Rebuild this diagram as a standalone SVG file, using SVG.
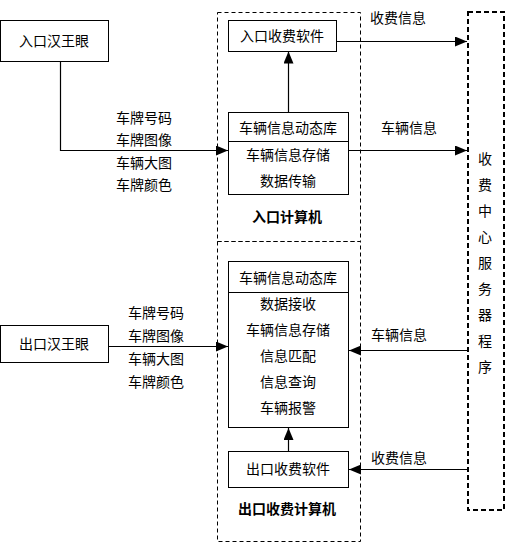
<svg xmlns="http://www.w3.org/2000/svg" width="508" height="544" viewBox="0 0 508 544">
<style>
text{font-family:"Noto Sans CJK SC","Liberation Sans",sans-serif;font-size:14px;fill:#000}
.c{text-anchor:middle}
.b{font-weight:bold}
.box{fill:#fff;stroke:#000;stroke-width:1}
.dash{fill:none;stroke:#000;stroke-width:1;stroke-dasharray:4 3}
.dash2{fill:none;stroke:#000;stroke-width:2;stroke-dasharray:5 3}
.ln{fill:none;stroke:#000;stroke-width:1.2}
</style>
<defs>
<marker id="ah" viewBox="0 0 12 10" refX="12" refY="5" markerWidth="12" markerHeight="10" markerUnits="userSpaceOnUse" orient="auto">
<path d="M0,0 L12,5 L0,10 Z" fill="#000"/>
</marker>
</defs>
<g id="entry-computer"><rect class="dash" x="217.5" y="12.5" width="143" height="229"/><text class="c b" x="287" y="222">入口计算机</text></g>
<g id="exit-computer"><rect class="dash" x="217.5" y="241.5" width="143" height="300"/><text class="c b" x="287" y="514">出口收费计算机</text></g>
<g id="center-server"><rect class="dash2" x="468" y="12" width="36" height="498"/>
<text class="c" x="485" y="164">收</text><text class="c" x="485" y="190">费</text><text class="c" x="485" y="216">中</text><text class="c" x="485" y="242">心</text><text class="c" x="485" y="268">服</text><text class="c" x="485" y="294">务</text><text class="c" x="485" y="320">器</text><text class="c" x="485" y="346">程</text><text class="c" x="485" y="372">序</text></g>
<g id="entry-eye"><rect class="box" x="0.5" y="20.5" width="108" height="41"/><text class="c" x="54" y="46">入口汉王眼</text></g>
<g id="entry-fee"><rect class="box" x="228.5" y="20.5" width="108" height="31"/><text class="c" x="282" y="41">入口收费软件</text></g>
<g id="entry-db"><rect class="box" x="228.5" y="112.5" width="120" height="82"/><line x1="228.5" y1="141.5" x2="348.5" y2="141.5" stroke="#000"/>
<text class="c" x="288" y="133">车辆信息动态库</text><text class="c" x="288" y="160">车辆信息存储</text><text class="c" x="288" y="186">数据传输</text></g>
<g id="exit-eye"><rect class="box" x="0.5" y="325.5" width="108" height="37"/><text class="c" x="54" y="349">出口汉王眼</text></g>
<g id="exit-db"><rect class="box" x="228.5" y="261.5" width="120" height="166"/><line x1="228.5" y1="292.5" x2="348.5" y2="292.5" stroke="#000"/>
<text class="c" x="288" y="283">车辆信息动态库</text><text class="c" x="288" y="309">数据接收</text><text class="c" x="288" y="335">车辆信息存储</text><text class="c" x="288" y="361">信息匹配</text><text class="c" x="288" y="387">信息查询</text><text class="c" x="288" y="413">车辆报警</text></g>
<g id="exit-fee"><rect class="box" x="228.5" y="451.5" width="120" height="36"/><text class="c" x="288" y="474">出口收费软件</text></g>
<g id="connectors">
<path class="ln" d="M60.5,62 V150.5 H228" marker-end="url(#ah)"/>
<text x="116" y="123">车牌号码</text><text x="116" y="145">车牌图像</text><text x="116" y="168">车辆大图</text><text x="116" y="190">车牌颜色</text>
<path class="ln" d="M288.5,112 V51.5" marker-end="url(#ah)"/>
<path class="ln" d="M337,41.5 H467" marker-end="url(#ah)"/>
<text x="370" y="23">收费信息</text>
<path class="ln" d="M349,150.5 H467" marker-end="url(#ah)"/>
<text x="381" y="133">车辆信息</text>
<path class="ln" d="M109,346.5 H228" marker-end="url(#ah)"/>
<text x="128" y="318">车牌号码</text><text x="128" y="341">车牌图像</text><text x="128" y="364">车辆大图</text><text x="128" y="387">车牌颜色</text>
<path class="ln" d="M467,350.5 H349" marker-end="url(#ah)"/>
<text x="371" y="340">车辆信息</text>
<path class="ln" d="M467,469.5 H349" marker-end="url(#ah)"/>
<text x="371" y="463">收费信息</text>
<path class="ln" d="M288.5,451 V428" marker-end="url(#ah)"/>
</g>
</svg>
